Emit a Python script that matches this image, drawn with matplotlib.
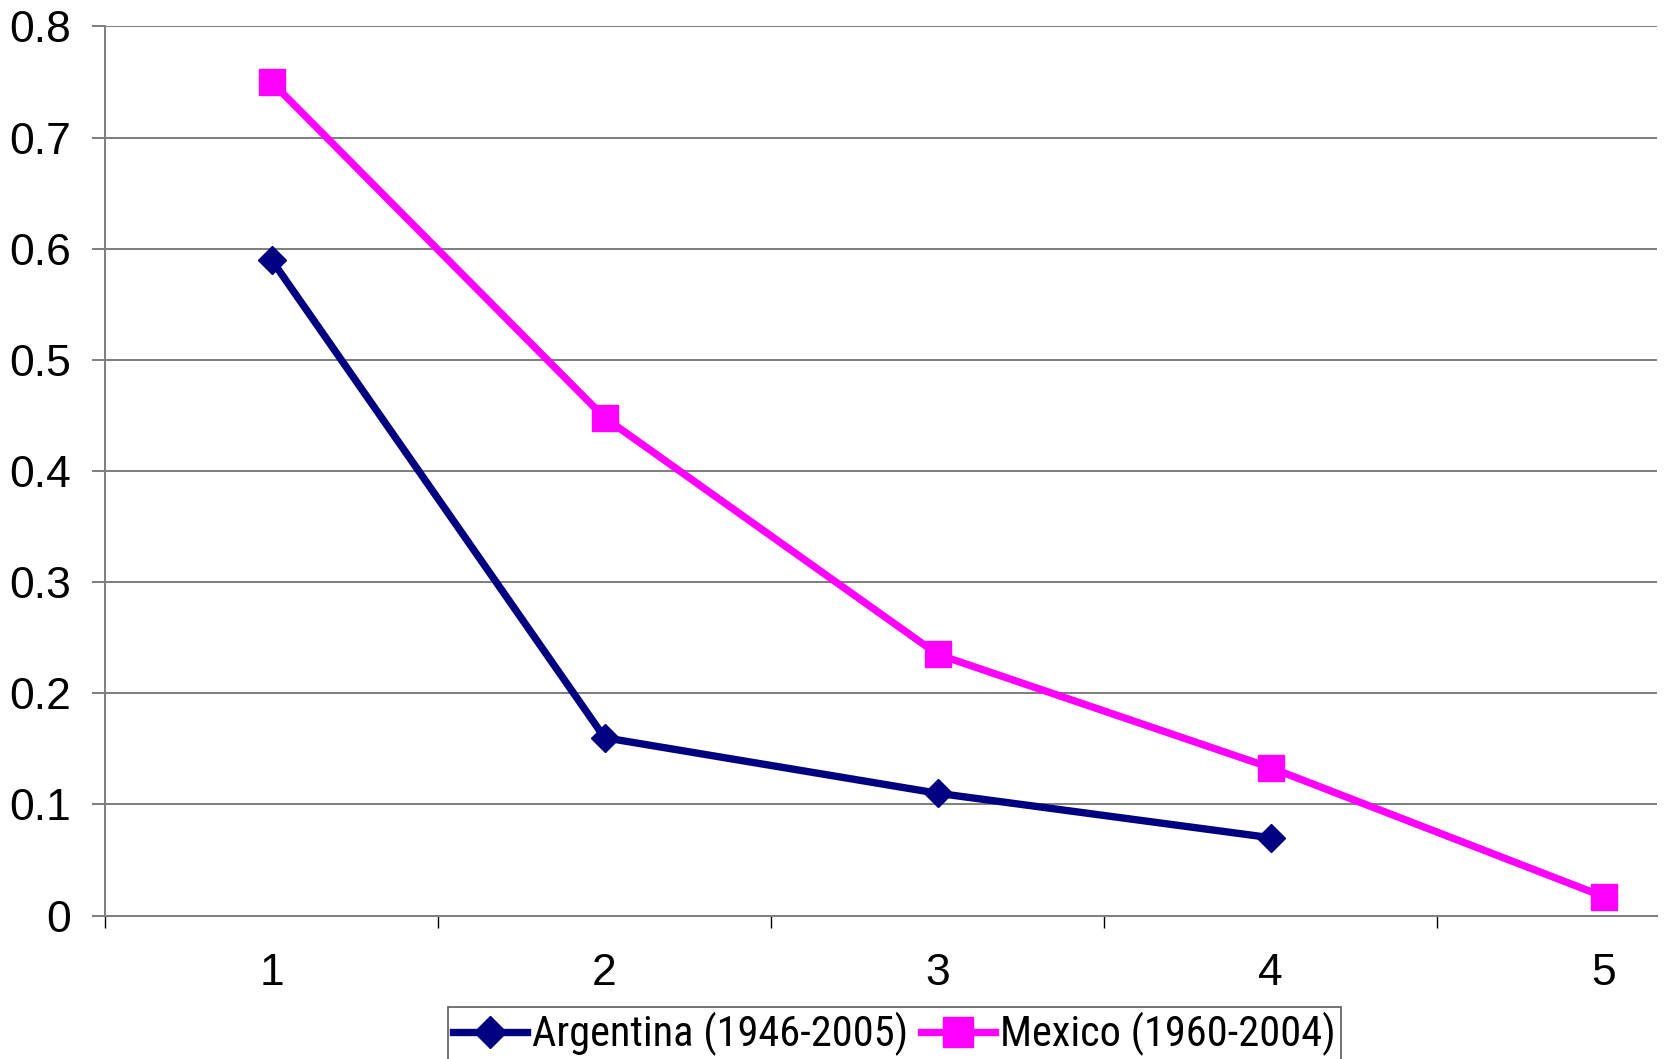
import matplotlib
matplotlib.use("Agg")
import matplotlib.pyplot as plt
import numpy as np

# series values
argentina_x = [1, 2, 3, 4]
argentina_y = [0.59, 0.16, 0.11, 0.07]
mexico_x = [1, 2, 3, 4, 5]
mexico_y = [0.75, 0.448, 0.235, 0.133, 0.017]
labels = ["Argentina (1946-2005)", "Mexico (1960-2004)"]
yticks = [0, 0.1, 0.2, 0.3, 0.4, 0.5, 0.6, 0.7, 0.8]
xticks = [1, 2, 3, 4, 5]

plt.rcParams['font.family'] = ['Liberation Sans', 'DejaVu Sans']

fig = plt.figure(figsize=(16.65, 10.59), dpi=100)
ax = fig.add_axes([0.0631, 0.1355, 0.9321, 0.8395])

gray = '#808080'
ax.set_axisbelow(True)
ax.grid(axis='y', color=gray, linewidth=1.45)

ax.plot(argentina_x, argentina_y, color='#000080', linewidth=5.3,
        marker='D', markersize=14, label=labels[0])
ax.plot(mexico_x, mexico_y, color='#FF00FF', linewidth=5.3,
        marker='s', markersize=18.5, label=labels[1])

ax.set_xlim(0.5, 5.16)
ax.set_ylim(0, 0.8)
ax.set_yticks(yticks)
ax.set_yticklabels(["0" if v == 0 else "%.1f" % v for v in yticks])
ax.set_xticks(xticks)
ax.set_xticks(np.arange(0.5, 5, 1.0), minor=True)

for s in ['top', 'right']:
    ax.spines[s].set_visible(False)
for s in ['left', 'bottom']:
    ax.spines[s].set_color(gray)
    ax.spines[s].set_linewidth(1.45)

ax.tick_params(axis='y', length=9.5, width=1.45, color=gray,
               labelsize=32, pad=15)
ax.tick_params(axis='x', which='major', length=0, labelsize=32, pad=27)
ax.tick_params(axis='x', which='minor', length=8.6, width=1, color='black')

# legend sits at the bottom edge, partly below the figure
leg = fig.legend(loc='upper left', bbox_to_anchor=(448 / 1665, 1 - 1007 / 1059),
                 ncol=2, frameon=True, fancybox=False,
                 prop={'family': ['Roboto Condensed', 'Liberation Sans'],
                       'size': 30.5},
                 edgecolor='#333333', borderpad=0.12, handlelength=1.75,
                 handletextpad=0.12, columnspacing=0.3,
                 borderaxespad=0, markerscale=1.2)
leg.get_frame().set_linewidth(1.2)

fig.savefig("out.png", dpi=100)
